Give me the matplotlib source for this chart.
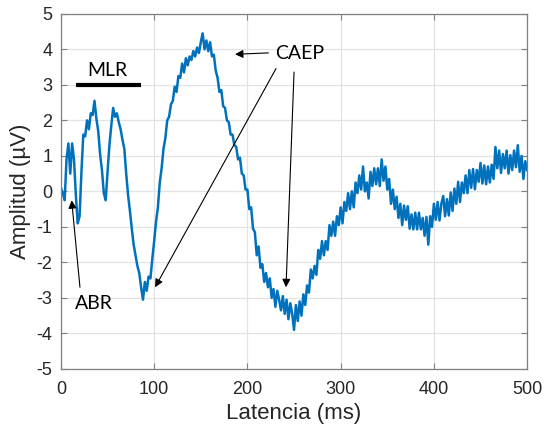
import numpy as np
import matplotlib
matplotlib.use("Agg")
import matplotlib.pyplot as plt

plt.rcParams["axes.unicode_minus"] = False

latency_ms = np.arange(0, 501, 2)
amplitude_uv = [
    0.10, -0.05, -0.25, 0.90, 1.35, 0.50, 1.35, 0.90, -0.10, -0.90,
    -0.70, 0.55, 1.60, 1.55, 2.00, 1.75, 2.20, 2.15, 2.55, 2.05,
    1.70, 1.05, 0.60, -0.05, -0.25, 0.55, 1.30, 1.85, 2.35, 2.10,
    2.20, 1.95, 1.75, 1.45, 1.20, 0.50, -0.10, -0.55, -1.05, -1.50,
    -1.80, -2.10, -2.30, -2.70, -3.05, -2.55, -2.80, -2.40, -2.45, -1.90,
    -1.40, -0.85, -0.45, 0.25, 0.65, 1.20, 1.50, 2.00, 2.10, 2.45,
    2.55, 2.95, 2.80, 3.25, 3.20, 3.60, 3.35, 3.75, 3.55, 3.80,
    3.70, 3.95, 3.80, 4.05, 3.90, 4.20, 4.45, 4.00, 4.25, 3.95,
    4.20, 3.80, 3.85, 3.40, 3.20, 2.80, 2.85, 2.40, 2.35, 2.00,
    1.95, 1.60, 1.60, 1.30, 1.25, 0.90, 0.95, 0.50, 0.45, 0.05,
    0.05, -0.50, -0.45, -1.05, -1.15, -1.80, -1.55, -2.15, -2.05, -2.55,
    -2.30, -2.70, -2.45, -3.00, -2.75, -3.25, -2.80, -3.05, -3.35, -2.95,
    -3.45, -3.05, -3.60, -3.15, -3.45, -3.90, -3.20, -3.65, -3.10, -3.50,
    -2.90, -3.20, -2.65, -2.85, -2.20, -2.45, -2.10, -2.35, -1.65, -1.90,
    -1.40, -1.80, -1.40, -1.65, -0.95, -1.25, -0.85, -1.25, -0.70, -0.95,
    -0.45, -0.90, -0.30, -0.55, -0.05, -0.50, 0.00, -0.45, 0.25, -0.05,
    0.45, 0.05, 0.70, 0.00, 0.25, -0.20, 0.55, 0.15, 0.65, 0.20,
    0.65, 0.15, 0.90, 0.30, 0.70, 0.05, 0.35, -0.35, 0.05, -0.50,
    -0.15, -0.75, -0.35, -0.95, -0.40, -0.80, -0.42, -1.05, -0.65, -1.07,
    -0.60, -1.07, -0.60, -1.07, -0.75, -1.25, -0.72, -1.50, -0.70, -1.00,
    -0.35, -0.80, -0.30, -0.82, -0.35, -0.13, -0.70, -0.22, -0.68, -0.03,
    -0.55, 0.08, -0.35, 0.27, -0.30, 0.25, -0.05, 0.45, -0.05, 0.60,
    0.10, 0.63, 0.06, 0.60, 0.27, 0.80, 0.22, 0.73, 0.20, 0.70,
    0.25, 0.75, 0.35, 1.25, 0.65, 1.15, 0.52, 1.05, 0.65, 1.15,
    0.50, 1.02, 0.60, 1.15, 0.68, 1.30, 0.55, 1.00, 0.35, 0.85,
    0.60,
]
x_ticks = [0, 100, 200, 300, 400, 500]
y_ticks = [-5, -4, -3, -2, -1, 0, 1, 2, 3, 4, 5]

fig = plt.figure(figsize=(5.44, 4.32), dpi=100)
ax = fig.add_axes([0.112, 0.146, 0.857, 0.822])

ax.plot(latency_ms, amplitude_uv, color="#0072BD", lw=1.8)

ax.set_xlim(0, 500)
ax.set_ylim(-5, 5)
ax.set_xticks(x_ticks)
ax.set_yticks(y_ticks)
ax.grid(True, color="#e3e3e3", lw=0.9)
ax.set_axisbelow(True)
for s in ax.spines.values():
    s.set_color("#808080")
    s.set_linewidth(0.9)
ax.tick_params(direction="in", top=True, right=True, length=4, color="#808080",
               labelsize=13, labelcolor="#262626")
ax.tick_params(axis="x", pad=9)
ax.tick_params(axis="y", pad=6)
for lab in ax.get_xticklabels() + ax.get_yticklabels():
    lab.set_family("Liberation Sans")
ax.set_xlabel("Latencia (ms)", fontsize=16, family="Liberation Sans", color="#262626", labelpad=3)
ax.set_ylabel("Amplitud (µV)", fontsize=16, family="Liberation Sans", color="#262626", labelpad=4)

# Annotations
afont = dict(fontsize=14, family="Lato", color="black")
ax.plot([16, 86], [3.0, 3.0], color="black", lw=3, solid_capstyle="butt")
ax.text(50, 3.4, "MLR", ha="center", va="center", **afont)

arrow = dict(arrowstyle="-|>", color="black", lw=0.8, mutation_scale=12, shrinkA=0, shrinkB=0)
ax.text(256, 3.88, "CAEP", ha="center", va="center", **afont)
ax.annotate("", xy=(186.7, 3.86), xytext=(222.5, 3.9), arrowprops=arrow)
ax.annotate("", xy=(101, -2.7), xytext=(230.7, 3.46), arrowprops=arrow)
ax.annotate("", xy=(241.4, -2.7), xytext=(250, 3.36), arrowprops=arrow)

ax.text(35.7, -3.15, "ABR", ha="center", va="center", **afont)
ax.annotate("", xy=(11.5, -0.25), xytext=(20.4, -2.7), arrowprops=arrow)

fig.savefig("out.png", dpi=100)
